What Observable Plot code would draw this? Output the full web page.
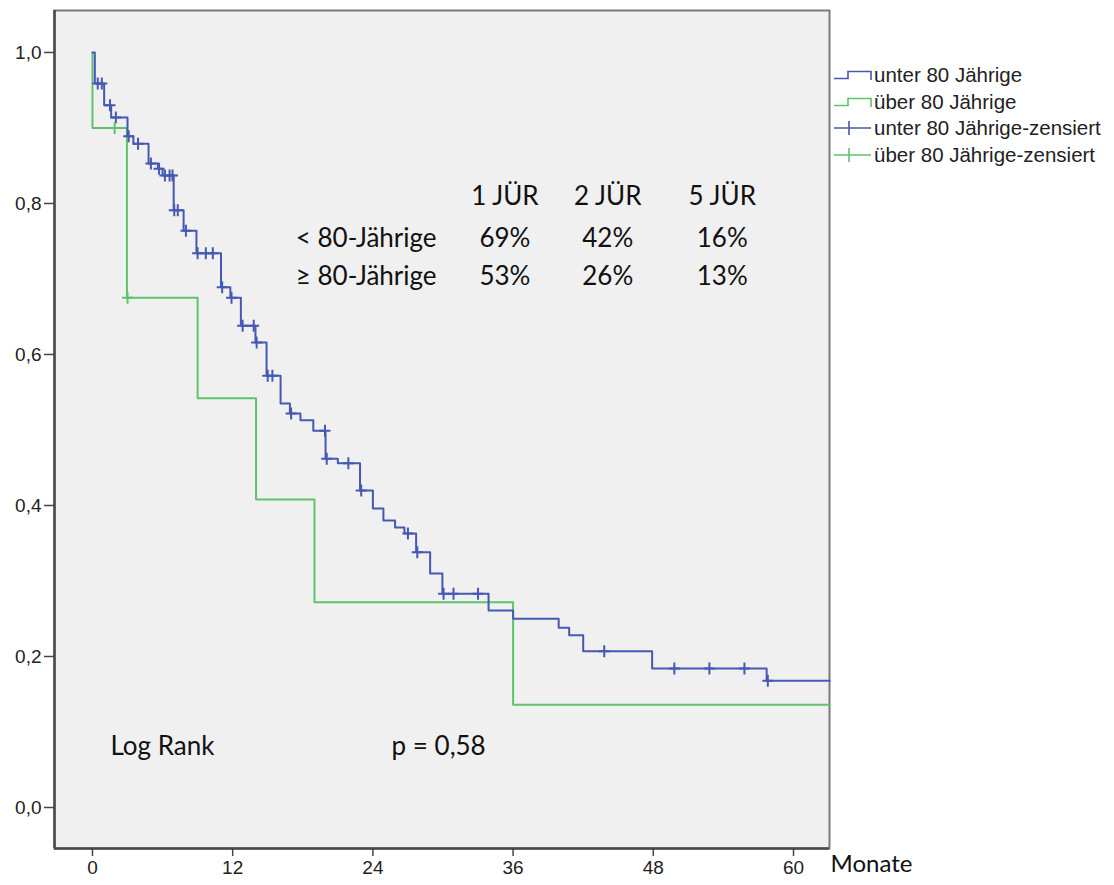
<!DOCTYPE html>
<html>
<head>
<meta charset="utf-8">
<script src="https://cdn.jsdelivr.net/npm/d3@7"></script>
<script src="https://cdn.jsdelivr.net/npm/@observablehq/plot@0.6"></script>
<style>
  html, body { margin: 0; padding: 0; background: #ffffff; }
  #wrap { position: relative; width: 1114px; height: 885px; }
  #legend { position: absolute; left: 833px; top: 62px; font-family: "Liberation Sans", Arial, sans-serif; font-size: 20.5px; color: #222; }
  .row { position: absolute; left: 0; height: 26px; white-space: nowrap; display: flex; align-items: center; }
  .row svg { display: block; margin-right: 1px; }
</style>
</head>
<body>
<div id="wrap">
  <div id="chart"></div>
  <div id="legend"></div>
</div>
<script>
// ---- data ----
const seriesNames = ["unter 80 Jährige", "über 80 Jährige"];
const legendLabels = ["unter 80 Jährige", "über 80 Jährige", "unter 80 Jährige-zensiert", "über 80 Jährige-zensiert"];

// Kaplan-Meier steps (time in months, survival after the event)
const underTime = [0, 0.2, 1.0, 1.6, 3.0, 3.5, 4.8, 5.6, 6.0, 6.95, 7.8, 8.9, 11.0, 11.8, 12.7, 13.95, 14.9, 16.1, 16.9, 17.8, 18.9, 19.95, 21.0, 22.9, 24.0, 24.9, 25.9, 26.7, 27.7, 28.9, 29.95, 33.9, 36.0, 39.9, 40.8, 42.0, 47.9, 57.7, 63.1];
const underSurv = [1.0, 0.959, 0.930, 0.914, 0.889, 0.879, 0.853, 0.846, 0.837, 0.791, 0.764, 0.734, 0.689, 0.675, 0.638, 0.616, 0.572, 0.535, 0.522, 0.513, 0.499, 0.462, 0.456, 0.420, 0.396, 0.380, 0.371, 0.363, 0.338, 0.310, 0.283, 0.261, 0.250, 0.238, 0.228, 0.207, 0.184, 0.168, 0.168];
const underCensTime = [0.45, 0.8, 1.5, 2.0, 3.1, 3.9, 5.0, 5.7, 6.2, 6.6, 6.85, 7.0, 7.3, 8.0, 9.0, 9.7, 10.3, 11.1, 11.9, 12.85, 13.8, 14.05, 15.0, 15.4, 17.0, 19.9, 20.05, 21.9, 23.0, 27.0, 27.8, 30.05, 30.9, 33.0, 43.8, 49.8, 52.8, 55.8, 57.8];
const underCensSurv = [0.959, 0.959, 0.930, 0.914, 0.889, 0.879, 0.853, 0.846, 0.837, 0.837, 0.837, 0.791, 0.791, 0.764, 0.734, 0.734, 0.734, 0.689, 0.675, 0.638, 0.638, 0.616, 0.572, 0.572, 0.522, 0.499, 0.462, 0.456, 0.420, 0.363, 0.338, 0.283, 0.283, 0.283, 0.207, 0.184, 0.184, 0.184, 0.168];

const overTime = [0, 0, 2.95, 9.0, 14.0, 19.0, 36.0, 63.1];
const overSurv = [1.0, 0.90, 0.675, 0.542, 0.408, 0.272, 0.136, 0.136];
const overCensTime = [1.9, 3.0];
const overCensSurv = [0.90, 0.675];

// annotation table
const tableHeaders = ["1 JÜR", "2 JÜR", "5 JÜR"];
const rowLabels = ["< 80-Jährige", "≥ 80-Jährige"];
const rowValues = [["69%", "42%", "16%"], ["53%", "26%", "13%"]];
const logRankLabel = "Log Rank";
const pValueLabel = "p = 0,58";

const xTicks = [0, 12, 24, 36, 48, 60];
const yTicks = [0, 0.2, 0.4, 0.6, 0.8, 1.0];
const xAxisLabel = "Monate";

// ---- build ----
const BLUE = "#4558b4";
const GREEN = "#5ec46c";
const under = underTime.map((t, i) => ({t, s: underSurv[i]}));
const over = overTime.map((t, i) => ({t, s: overSurv[i]}));
const underC = underCensTime.map((t, i) => ({t, s: underCensSurv[i]}));
const overC = overCensTime.map((t, i) => ({t, s: overCensSurv[i]}));

const cross = {draw(ctx) { ctx.moveTo(-5.5, 0); ctx.lineTo(5.5, 0); ctx.moveTo(0, -6); ctx.lineTo(0, 6); }};

const xDom = [-3.25, 63.08];
const yDom = [-0.0543, 1.0556];
const colX = [35.3, 44.1, 53.9];
const headerY = 0.809, rowY = [0.754, 0.703];

const tableTexts = [];
tableHeaders.forEach((h, j) => tableTexts.push({x: colX[j], y: headerY, text: h}));
rowValues.forEach((r, i) => r.forEach((v, j) => tableTexts.push({x: colX[j], y: rowY[i], text: v})));
const rowTexts = rowLabels.map((l, i) => ({x: 17.4, y: rowY[i], text: l}));

const fontBig = "Lato, 'Open Sans', sans-serif";
const bigSize = 26;

const chart = Plot.plot({
  width: 1114,
  height: 885,
  marginLeft: 54,
  marginRight: 285,
  marginTop: 10,
  marginBottom: 37,
  style: {background: "transparent", fontFamily: "'Liberation Sans', Arial, sans-serif"},
  x: {domain: xDom},
  y: {domain: yDom},
  marks: [
    Plot.frame({fill: "#f0f0f0", stroke: "#7a7a7a", strokeWidth: 2}),
    Plot.ruleX([xDom[0]], {stroke: "#4a4a4a", strokeWidth: 2.5}),
    Plot.ruleY([yDom[0]], {stroke: "#4a4a4a", strokeWidth: 2.5}),
    Plot.axisX({ticks: xTicks, tickSize: 8, tickPadding: 4, fontSize: 19, label: null, color: "#222", stroke: "#444", strokeWidth: 1.5}),
    Plot.axisY({ticks: yTicks, tickSize: 10, tickPadding: 3, fontSize: 19, label: null, color: "#222", stroke: "#444", strokeWidth: 1.5,
      tickFormat: d => d.toFixed(1).replace(".", ",")}),
    Plot.line(over, {x: "t", y: "s", curve: "step-after", stroke: GREEN, strokeWidth: 2}),
    Plot.line(under, {x: "t", y: "s", curve: "step-after", stroke: BLUE, strokeWidth: 2}),
    Plot.dot(underC, {x: "t", y: "s", symbol: cross, stroke: BLUE, fill: "none", strokeWidth: 2}),
    Plot.dot(overC, {x: "t", y: "s", symbol: cross, stroke: GREEN, fill: "none", strokeWidth: 2}),
    Plot.text(tableTexts, {x: "x", y: "y", text: "text", fontSize: bigSize, fontFamily: fontBig, fill: "#111", textAnchor: "middle"}),
    Plot.text(rowTexts, {x: "x", y: "y", text: "text", fontSize: bigSize, fontFamily: fontBig, fill: "#111", textAnchor: "start"}),
    Plot.text([logRankLabel], {x: 1.54, y: 0.081, text: d => d, fontSize: bigSize, fontFamily: fontBig, fill: "#111", textAnchor: "start"}),
    Plot.text([pValueLabel], {x: 25.6, y: 0.081, text: d => d, fontSize: bigSize, fontFamily: fontBig, fill: "#111", textAnchor: "start"}),
    Plot.text([xAxisLabel], {frameAnchor: "bottom-right", text: d => d, dx: 1, dy: 23, fontSize: 24, fontFamily: fontBig, fill: "#111", textAnchor: "start"})
  ]
});
document.getElementById("chart").appendChild(chart);

// legend
const legend = d3.select("#legend");
const colors = [BLUE, GREEN, BLUE, GREEN];
legendLabels.forEach((label, i) => {
  const row = legend.append("div").attr("class", "row").style("top", (i * 26.5) + "px");
  const svg = row.append("svg").attr("width", 40).attr("height", 26);
  if (i < 2) {
    svg.append("path").attr("d", "M1,16.5 H15 V9.5 H38 V18").attr("fill", "none").attr("stroke", colors[i]).attr("stroke-width", 1.6);
  } else {
    svg.append("path").attr("d", "M1,13 H38 M16,6 V20").attr("fill", "none").attr("stroke", colors[i]).attr("stroke-width", 1.6);
  }
  row.append("span").text(label);
});
</script>
</body>
</html>
